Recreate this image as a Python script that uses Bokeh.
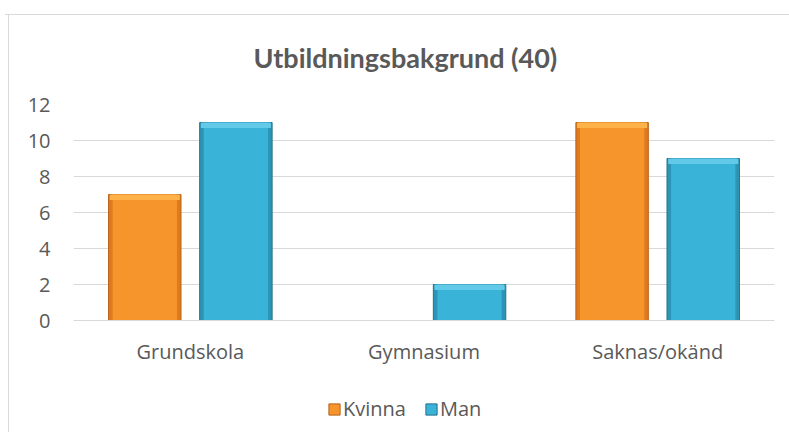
from bokeh.plotting import figure
from bokeh.models import (ColumnDataSource, FactorRange, Range1d, Legend, LegendItem,
                          FixedTicker)
from bokeh.layouts import column
from bokeh.transform import dodge
from bokeh.embed import file_html
from bokeh.resources import INLINE

categories = ["Grundskola", "Gymnasium", "Saknas/okänd"]
kvinna = [7, 0, 11]
man = [11, 2, 9]
series_names = ["Kvinna", "Man"]
y_ticks = [0, 2, 4, 6, 8, 10, 12]
title_text = "Utbildningsbakgrund (40)"

BEVEL = 0.3
src = ColumnDataSource(dict(cat=categories, kvinna=kvinna, man=man,
                            kv_b=[max(0, v - BEVEL) for v in kvinna],
                            man_b=[max(0, v - BEVEL) for v in man]))

GRID = "#d9d9d9"
TXT = "#595959"
FONT = "Open Sans"
K_EDGE, K_FILL, K_HI, K_LINE = "#E07A1C", "#F7952D", "#FDB24A", "#B5621A"
M_EDGE, M_FILL, M_HI, M_LINE = "#2C95B6", "#3AB3D8", "#62C9E8", "#23718A"

p = figure(frame_width=701, frame_height=216, x_range=FactorRange(*categories),
           y_range=Range1d(0, 12),
           output_backend="svg", toolbar_location=None, title=title_text,
           min_border_left=73, min_border_right=15, min_border_top=104, min_border_bottom=64)
p.outline_line_color = None
p.background_fill_color = "white"
p.border_fill_color = None

p.title.text_font = "Lato"
p.title.text_font_style = "bold"
p.title.text_font_size = "27px"
p.title.text_color = TXT
p.title.align = "left"
p.title.offset = 180
p.title.standoff = 62

p.xgrid.grid_line_color = None
p.ygrid.grid_line_color = GRID
p.ygrid.ticker = FixedTicker(ticks=y_ticks)
p.yaxis.ticker = FixedTicker(ticks=y_ticks)
p.yaxis.axis_line_color = None
p.yaxis.major_tick_line_color = None
p.yaxis.minor_tick_line_color = None
p.yaxis.major_tick_out = 0
p.yaxis.major_tick_in = 0
p.yaxis.major_label_text_font = FONT
p.yaxis.major_label_text_font_size = "20px"
p.yaxis.major_label_text_color = TXT
p.yaxis.major_label_standoff = 23

p.xaxis.axis_line_color = GRID
p.xaxis.major_tick_line_color = None
p.xaxis.minor_tick_line_color = None
p.xaxis.major_tick_out = 0
p.xaxis.major_tick_in = 0
p.xaxis.major_label_text_font = FONT
p.xaxis.major_label_text_font_size = "20px"
p.xaxis.major_label_text_color = TXT
p.xaxis.major_label_standoff = 17

BW = 0.31
OFF = 0.195
xk = dodge("cat", -OFF, range=p.x_range)
xm = dodge("cat", OFF, range=p.x_range)
p.vbar(x=xk, top="kvinna", width=BW, source=src,
       fill_color=K_EDGE, line_color=K_LINE, line_width=1)
p.vbar(x=xk, top="kvinna", width=BW - 0.035, source=src, fill_color=K_FILL, line_color=None)
p.vbar(x=xk, top="kvinna", bottom="kv_b", width=BW - 0.01, source=src,
       fill_color=K_HI, line_color=None)
p.vbar(x=xm, top="man", width=BW, source=src,
       fill_color=M_EDGE, line_color=M_LINE, line_width=1)
p.vbar(x=xm, top="man", width=BW - 0.035, source=src, fill_color=M_FILL, line_color=None)
p.vbar(x=xm, top="man", bottom="man_b", width=BW - 0.01, source=src,
       fill_color=M_HI, line_color=None)

# legend strip below the chart (its proxy bars lie below its visible y range)
lg = figure(width=789, height=48, x_range=FactorRange(*categories), y_range=Range1d(100, 101),
            output_backend="svg", toolbar_location=None, min_border=0)
lg.axis.visible = False
lg.grid.grid_line_color = None
lg.outline_line_color = None
lg.background_fill_color = None
lg.border_fill_color = None
lk = lg.vbar(x="cat", top="kvinna", width=BW, source=src, fill_color=K_FILL, line_color=K_LINE)
lm = lg.vbar(x="cat", top="man", width=BW, source=src, fill_color=M_FILL, line_color=M_LINE)
legend = Legend(items=[LegendItem(label=series_names[0], renderers=[lk]),
                       LegendItem(label=series_names[1], renderers=[lm])],
                orientation="horizontal", location=(254, 10),
                label_text_font=FONT, label_text_font_size="20px", label_text_color=TXT,
                glyph_width=14, glyph_height=14, label_standoff=2, spacing=18,
                border_line_color=None, background_fill_alpha=0, padding=0, margin=0)
lg.add_layout(legend)

layout = column(p, lg, spacing=0)
layout.styles = {"background": ("linear-gradient(#d9d9d9,#d9d9d9) 5px 14px / 790px 1px no-repeat, "
                                "linear-gradient(#d9d9d9,#d9d9d9) 8px 14px / 1px 430px no-repeat, white")}

open("out.html", "w").write(file_html(layout, INLINE))
